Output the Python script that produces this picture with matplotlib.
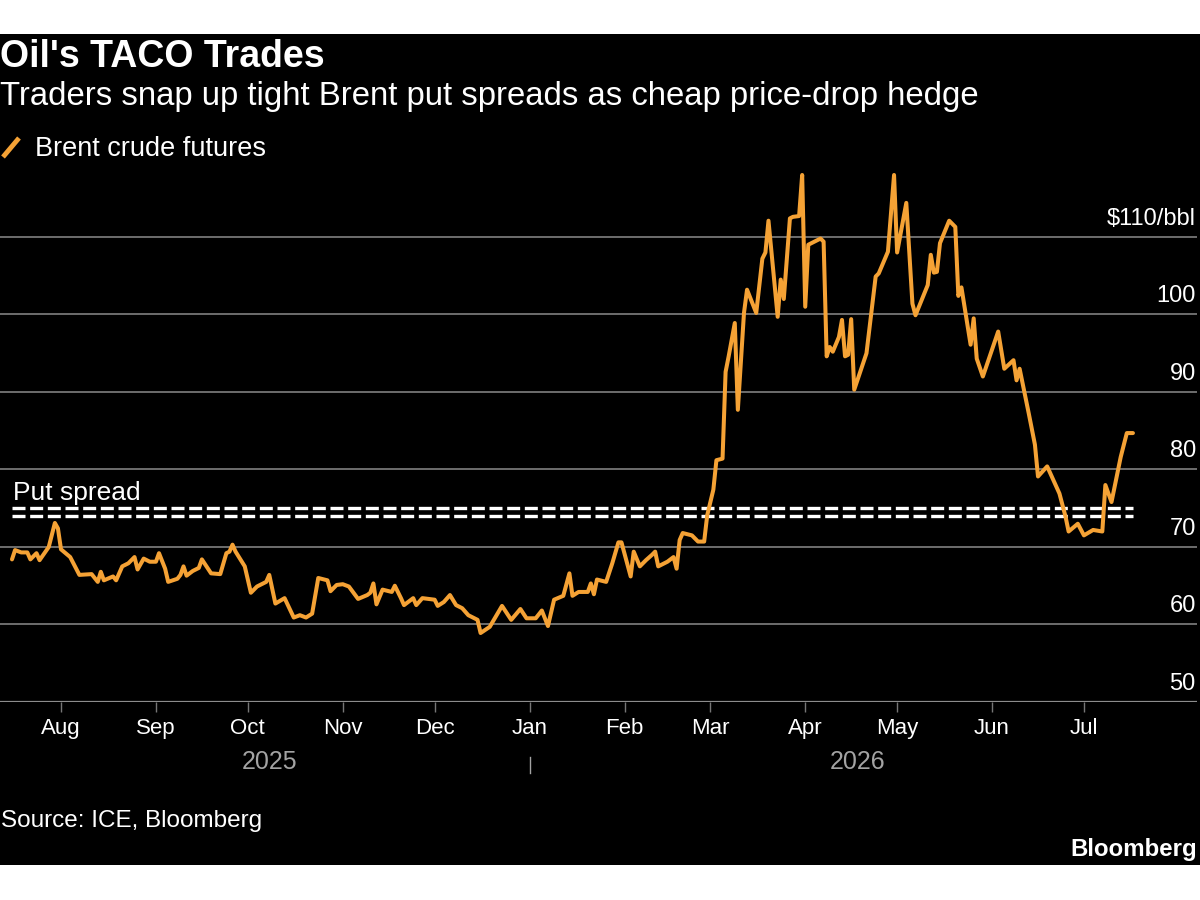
import matplotlib
matplotlib.use("Agg")

import pandas as pd
import matplotlib.pyplot as plt
import matplotlib.dates as mdates
import matplotlib.transforms as mtransforms
from matplotlib.lines import Line2D
from matplotlib.patches import Rectangle

plt.rcParams["font.family"] = ["Liberation Sans", "DejaVu Sans"]

# Brent crude futures, $/bbl
fechas = [
    "2025-07-16", "2025-07-17", "2025-07-19", "2025-07-21", "2025-07-22", "2025-07-24",
    "2025-07-25", "2025-07-28", "2025-07-30", "2025-07-31", "2025-08-01", "2025-08-04",
    "2025-08-07", "2025-08-11", "2025-08-13", "2025-08-14", "2025-08-15", "2025-08-18",
    "2025-08-19", "2025-08-21", "2025-08-23", "2025-08-25", "2025-08-26", "2025-08-28",
    "2025-08-30", "2025-09-01", "2025-09-02", "2025-09-04", "2025-09-05", "2025-09-08",
    "2025-09-09", "2025-09-10", "2025-09-11", "2025-09-13", "2025-09-15", "2025-09-16",
    "2025-09-19", "2025-09-22", "2025-09-24", "2025-09-25", "2025-09-26", "2025-09-27",
    "2025-09-30", "2025-10-02", "2025-10-04", "2025-10-07", "2025-10-08", "2025-10-10",
    "2025-10-13", "2025-10-16", "2025-10-18", "2025-10-20", "2025-10-22", "2025-10-24",
    "2025-10-27", "2025-10-28", "2025-10-30", "2025-11-01", "2025-11-03", "2025-11-06",
    "2025-11-09", "2025-11-10", "2025-11-11", "2025-11-12", "2025-11-14", "2025-11-17",
    "2025-11-18", "2025-11-20", "2025-11-21", "2025-11-24", "2025-11-25", "2025-11-27",
    "2025-12-01", "2025-12-02", "2025-12-04", "2025-12-06", "2025-12-08", "2025-12-10",
    "2025-12-12", "2025-12-15", "2025-12-16", "2025-12-19", "2025-12-23", "2025-12-26",
    "2025-12-29", "2025-12-31", "2026-01-03", "2026-01-05", "2026-01-07", "2026-01-09",
    "2026-01-12", "2026-01-14", "2026-01-15", "2026-01-17", "2026-01-20", "2026-01-21",
    "2026-01-22", "2026-01-23", "2026-01-26", "2026-01-28", "2026-01-30", "2026-01-31",
    "2026-02-03", "2026-02-04", "2026-02-06", "2026-02-08", "2026-02-10", "2026-02-11",
    "2026-02-12", "2026-02-15", "2026-02-17", "2026-02-18", "2026-02-19", "2026-02-20",
    "2026-02-23", "2026-02-25", "2026-02-27", "2026-02-28", "2026-03-02", "2026-03-03",
    "2026-03-05", "2026-03-06", "2026-03-07", "2026-03-09", "2026-03-10", "2026-03-12",
    "2026-03-13", "2026-03-16", "2026-03-18", "2026-03-19", "2026-03-20", "2026-03-23",
    "2026-03-24", "2026-03-25", "2026-03-27", "2026-03-28", "2026-03-30", "2026-03-31",
    "2026-04-01", "2026-04-02", "2026-04-06", "2026-04-07", "2026-04-08", "2026-04-09",
    "2026-04-10", "2026-04-12", "2026-04-13", "2026-04-14", "2026-04-15", "2026-04-16",
    "2026-04-17", "2026-04-21", "2026-04-24", "2026-04-25", "2026-04-28", "2026-04-30",
    "2026-05-01", "2026-05-04", "2026-05-06", "2026-05-07", "2026-05-11", "2026-05-12",
    "2026-05-13", "2026-05-14", "2026-05-15", "2026-05-18", "2026-05-20", "2026-05-21",
    "2026-05-22", "2026-05-25", "2026-05-26", "2026-05-27", "2026-05-29", "2026-06-03",
    "2026-06-05", "2026-06-08", "2026-06-09", "2026-06-10", "2026-06-13", "2026-06-15",
    "2026-06-16", "2026-06-19", "2026-06-23", "2026-06-25", "2026-06-26", "2026-06-29",
    "2026-07-01", "2026-07-04", "2026-07-07", "2026-07-08", "2026-07-10", "2026-07-13",
    "2026-07-15", "2026-07-17",
]
precios = [
    68.4, 69.6, 69.3, 69.3, 68.4, 69.2,
    68.3, 70.0, 73.1, 72.4, 69.7, 68.7,
    66.4, 66.5, 65.5, 66.8, 65.7, 66.2,
    65.7, 67.5, 67.9, 68.7, 67.1, 68.5,
    68.1, 68.1, 69.2, 67.2, 65.5, 65.9,
    66.4, 67.5, 66.3, 66.9, 67.3, 68.4,
    66.6, 66.5, 69.2, 69.4, 70.3, 69.4,
    67.5, 64.1, 64.9, 65.5, 66.4, 62.7,
    63.4, 60.9, 61.2, 60.9, 61.4, 66.0,
    65.7, 64.3, 65.1, 65.2, 64.9, 63.3,
    63.8, 64.1, 65.3, 62.6, 64.5, 64.2,
    65.0, 63.4, 62.5, 63.4, 62.5, 63.4,
    63.2, 62.4, 62.9, 63.8, 62.5, 62.1,
    61.2, 60.6, 58.9, 59.7, 62.4, 60.6,
    62.0, 60.8, 60.8, 61.8, 59.8, 63.2,
    63.7, 66.6, 63.7, 64.2, 64.2, 65.3,
    63.9, 65.8, 65.5, 67.9, 70.6, 70.6,
    66.2, 69.4, 67.5, 68.3, 69.0, 69.4,
    67.5, 68.1, 68.7, 67.2, 70.9, 71.8,
    71.5, 70.7, 70.7, 74.1, 77.4, 81.2,
    81.4, 92.6, 94.6, 98.9, 87.7, 100.2,
    103.2, 100.2, 107.2, 108.0, 112.1, 99.7,
    104.5, 102.0, 112.4, 112.6, 112.7, 118.0,
    101.0, 109.0, 109.8, 109.4, 94.6, 95.8,
    95.2, 97.1, 99.3, 94.6, 94.8, 99.4,
    90.3, 95.0, 104.9, 105.3, 108.1, 118.0,
    108.0, 114.4, 101.4, 99.9, 103.8, 107.7,
    105.4, 105.5, 109.2, 112.1, 111.3, 102.4,
    103.5, 96.1, 99.5, 94.3, 92.0, 97.8,
    93.0, 94.1, 91.5, 93.0, 87.2, 83.2,
    79.1, 80.4, 76.9, 73.9, 72.0, 73.0,
    71.5, 72.2, 72.0, 78.0, 75.8, 81.6,
    84.7, 84.7,
]

# niveles del put spread
put_spread = [74.0, 75.0]

y_ticks = [50, 60, 70, 80, 90, 100, 110]
y_labels = ["50", "60", "70", "80", "90", "100", "$110/bbl"]

meses = ["2025-08-01", "2025-09-01", "2025-10-01", "2025-11-01", "2025-12-01", "2026-01-01",
         "2026-02-01", "2026-03-01", "2026-04-01", "2026-05-01", "2026-06-01", "2026-07-01"]
meses_labels = ["Aug", "Sep", "Oct", "Nov", "Dec", "Jan", "Feb", "Mar", "Apr", "May", "Jun", "Jul"]

anios = ["2025", "2026"]
anios_pos = ["2025-10-08", "2026-04-18"]

naranja = "#F5A235"
gris = "#767676"
gris_txt = "#a3a3a3"

serie = pd.Series(precios, index=pd.to_datetime(fechas))

fig = plt.figure(figsize=(12, 9), dpi=100, facecolor="white")
fig.patches.append(Rectangle((0, 0.0389), 1, 0.9233, transform=fig.transFigure,
                             facecolor="black", edgecolor="none", zorder=-10))

ax = fig.add_axes([0, 0.22, 0.9975, 0.6028])
ax.set_facecolor("black")
ax.set_xlim(pd.Timestamp("2025-07-12 02:00"), pd.Timestamp("2026-08-06 22:00"))
ax.set_ylim(50, 120)
for s in ax.spines.values():
    s.set_visible(False)

# rejilla horizontal
for v in y_ticks[1:]:
    ax.axhline(v, color=gris, lw=1.3, zorder=1)
ax.axhline(50, color="#8c8c8c", lw=1.6, zorder=1)

trans_y = mtransforms.blended_transform_factory(ax.transAxes, ax.transData)
for v, lab in zip(y_ticks, y_labels):
    ax.text(0.999, v + 1.55, lab, transform=trans_y, ha="right", va="baseline",
            color="white", fontsize=17)
ax.set_yticks([])

ax.plot(serie.index, serie.values, color=naranja, lw=2.9,
        solid_joinstyle="round", solid_capstyle="round", zorder=4)

for v in put_spread:
    ax.plot([serie.index[0], serie.index[-1]], [v, v], color="white", lw=2.4,
            dashes=(3.9, 1.4), zorder=3)
ax.text(0.011, 76.06, "Put spread", transform=trans_y, ha="left", va="baseline",
        color="white", fontsize=19)

ax.set_xticks(pd.to_datetime(meses))
ax.set_xticklabels(meses_labels)
ax.tick_params(axis="x", length=7.5, width=1, color=gris, labelcolor="white",
               labelsize=16, pad=4)

trans_x = mtransforms.blended_transform_factory(ax.transData, ax.transAxes)
for anio, pos in zip(anios, anios_pos):
    ax.text(mdates.date2num(pd.Timestamp(pos)), -0.124, anio, transform=trans_x,
            ha="center", va="baseline", color=gris_txt, fontsize=18)
jan = mdates.date2num(pd.Timestamp("2026-01-01"))
ax.plot([jan, jan], [-0.1008, -0.1314], transform=trans_x, color=gris_txt, lw=1,
        clip_on=False)

# textos
fig.text(0.0, 1 - 67 / 900, "Oil's TACO Trades", color="white", fontsize=27,
         fontweight="bold", va="baseline", ha="left")
fig.text(0.0, 1 - 105 / 900, "Traders snap up tight Brent put spreads as cheap price-drop hedge",
         color="white", fontsize=23.7, va="baseline", ha="left")
fig.add_artist(Line2D([3 / 1200, 19 / 1200], [1 - 157 / 900, 1 - 138 / 900],
                      transform=fig.transFigure, color=naranja, lw=3.5, solid_capstyle="butt"))
fig.text(35 / 1200, 1 - 155.7 / 900, "Brent crude futures", color="white", fontsize=19.5,
         va="baseline", ha="left")
fig.text(0.001, 1 - 826.7 / 900, "Source: ICE, Bloomberg", color="white", fontsize=17.5,
         va="baseline", ha="left")
fig.text(0.9975, 1 - 856 / 900, "Bloomberg", color="white", fontsize=17.3,
         fontweight="bold", va="baseline", ha="right")

fig.savefig("out.png", dpi=100)
plt.close(fig)
